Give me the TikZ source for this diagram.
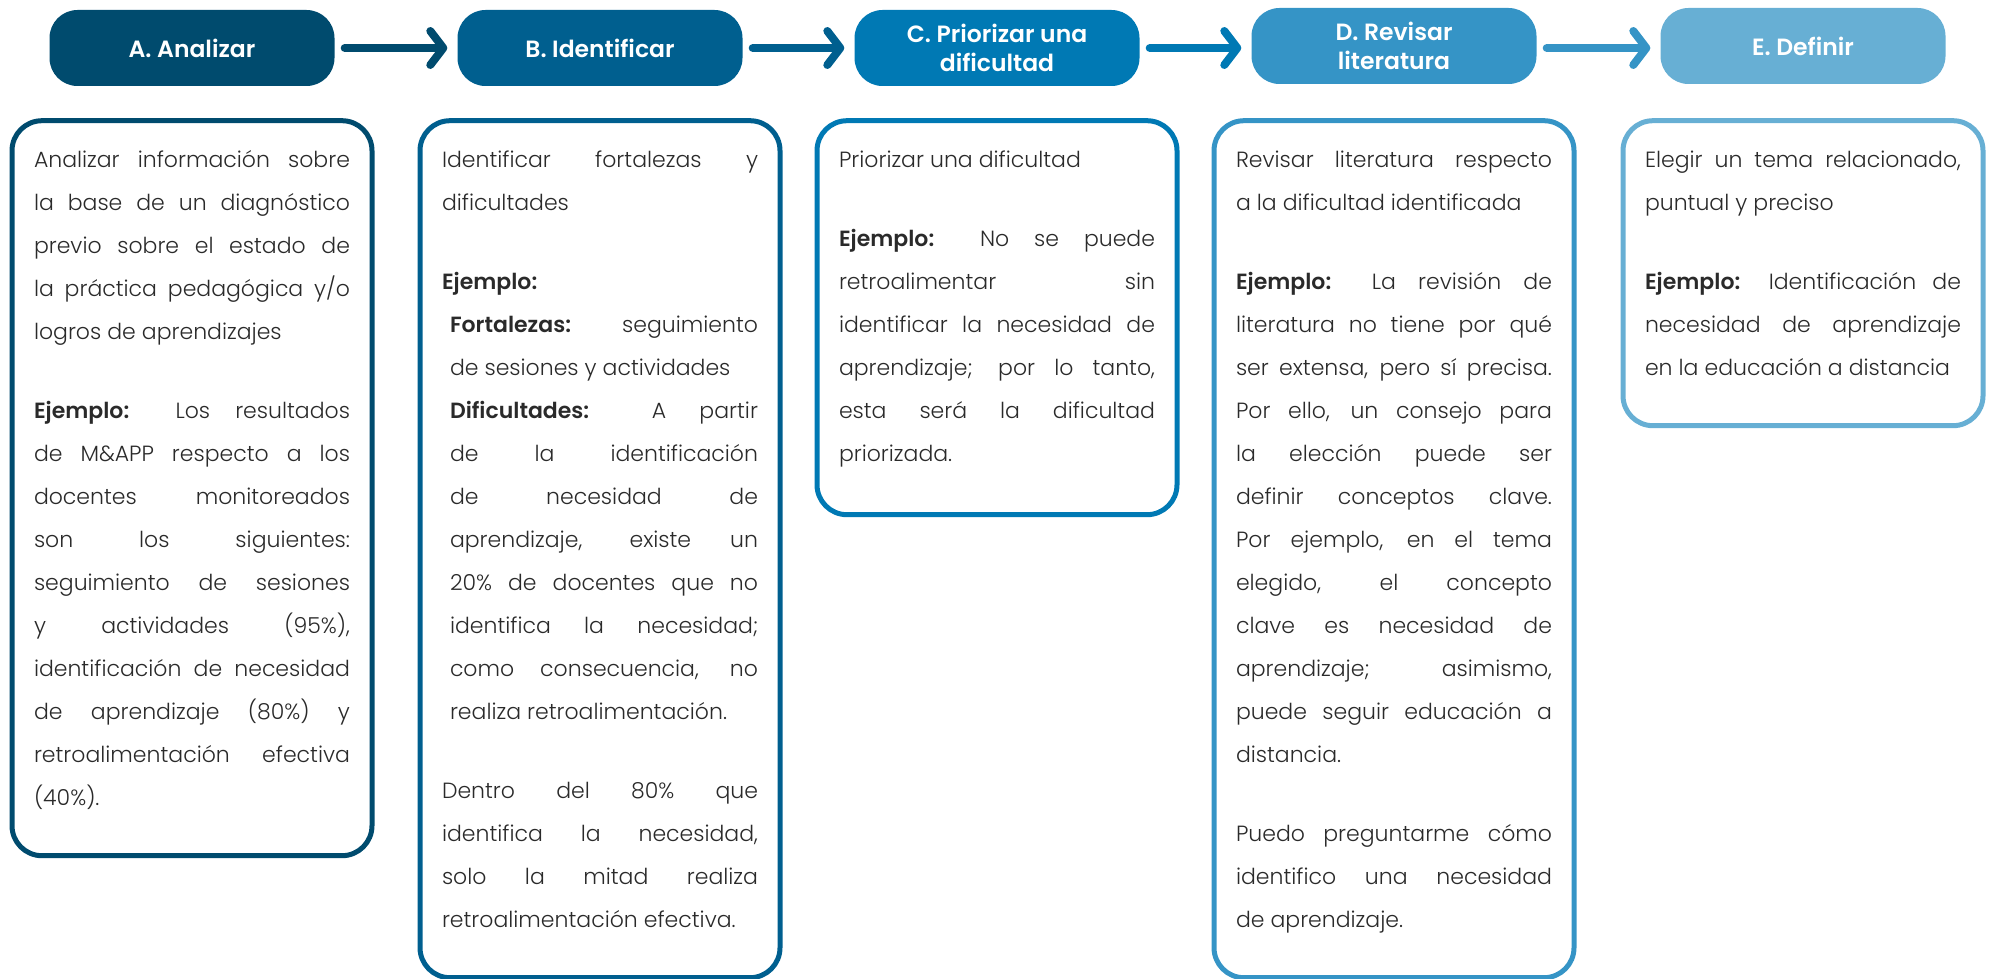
\documentclass[tikz,border=0pt]{standalone}
\usepackage{fontspec}
\setmainfont{Poppins}[UprightFont=* Light, BoldFont=* SemiBold]
\usetikzlibrary{positioning,arrows.meta}
\definecolor{cA}{HTML}{004B6E}
\definecolor{cB}{HTML}{005F8F}
\definecolor{cC}{HTML}{0079B4}
\definecolor{cD}{HTML}{3594C6}
\definecolor{cE}{HTML}{67AFD4}
\definecolor{ink}{HTML}{2A2A2A}
\newcommand{\txtsize}{\fontsize{22pt}{43pt}\selectfont}
\newcommand{\boxtext}[2]{\parbox[c][#1][t]{316pt}{\txtsize\hyphenpenalty=10000 #2}}
\newcommand{\gap}{\par\vspace{36pt}}
\begin{document}
\begin{tikzpicture}[x=1pt,y=-1pt,
  head/.style={fill=#1, text=white, rounded corners=28pt, minimum width=285pt,
    minimum height=76pt, align=center, font=\fontsize{23.5pt}{29pt}\selectfont\bfseries},
  body/.style={draw=#1, line width=5pt, rounded corners=30pt, inner xsep=22pt,
    inner ysep=30pt, text=ink},
  link/.style={draw=#1, line width=8pt, line cap=round,
    -{Straight Barb[round,length=13pt,width=34pt]}, shorten <=10pt, shorten >=10pt}]
\useasboundingbox (0,0) rectangle (1991,979);
% steps
\node [head=cA] (hA) at (192,48) {A. Analizar};
\node [head=cB] (hB) at (600,48) {B. Identificar};
\node [head=cC] (hC) at (997,48) {C. Priorizar una\\dificultad};
\node [head=cD] (hD) at (1394,46) {D. Revisar\\literatura};
\node [head=cE] (hE) at (1803,46) {E. Definir};
\draw [link=cA] (hA.east) -- (hA.east -| hB.west);
\draw [link=cB] (hB.east) -- (hB.east -| hC.west);
\draw [link=cC] (hC.east) -- (hC.east -| hD.west);
\draw [link=cD] (hD.east |- hC.east) -- (hC.east -| hE.west);
% details
\node [body=cA, below=32pt of hA] (bA) {\boxtext{675pt}{%
Analizar información sobre\linebreak la base de un diagnóstico\linebreak previo sobre el estado de\linebreak la práctica pedagógica y/o\linebreak logros de aprendizajes\gap
\textbf{Ejemplo:} Los resultados\linebreak de M\&APP respecto a los\linebreak docentes monitoreados\linebreak son los siguientes:\linebreak seguimiento de sesiones\linebreak y actividades (95\%),\linebreak identificación de necesidad\linebreak de aprendizaje (80\%) y\linebreak retroalimentación efectiva\linebreak (40\%).}};
\node [body=cB, below=32pt of hB] (bB) {\boxtext{797pt}{%
Identificar fortalezas y\linebreak dificultades\gap
\textbf{Ejemplo:}\par
{\leftskip=8pt \textbf{Fortalezas:} seguimiento\linebreak de sesiones y actividades\par
\textbf{Dificultades:} A partir\linebreak de la identificación\linebreak de necesidad de\linebreak aprendizaje, existe un\linebreak 20\% de docentes que no\linebreak identifica la necesidad;\linebreak como consecuencia, no\linebreak realiza retroalimentación.\par}
\vspace{36pt}
Dentro del 80\% que\linebreak identifica la necesidad,\linebreak solo la mitad realiza\linebreak retroalimentación efectiva.}};
\node [body=cC, below=32pt of hC] (bC) {\boxtext{334pt}{%
Priorizar una dificultad\gap
\textbf{Ejemplo:} No se puede\linebreak retroalimentar sin\linebreak identificar la necesidad de\linebreak aprendizaje; por lo tanto,\linebreak esta será la dificultad\linebreak priorizada.}};
\node [body=cD, below=34pt of hD] (bD) {\boxtext{797pt}{%
Revisar literatura respecto\linebreak a la dificultad identificada\gap
\textbf{Ejemplo:} La revisión de\linebreak literatura no tiene por qué\linebreak ser extensa, pero sí precisa.\linebreak Por ello, un consejo para\linebreak la elección puede ser\linebreak definir conceptos clave.\linebreak Por ejemplo, en el tema\linebreak elegido, el concepto\linebreak clave es necesidad de\linebreak aprendizaje; asimismo,\linebreak puede seguir educación a\linebreak distancia.\gap
Puedo preguntarme cómo\linebreak identifico una necesidad\linebreak de aprendizaje.}};
\node [body=cE, below=34pt of hE] (bE) {\boxtext{245pt}{%
Elegir un tema relacionado,\linebreak puntual y preciso\gap
\textbf{Ejemplo:} Identificación de\linebreak necesidad de aprendizaje\linebreak en la educación a distancia}};
\end{tikzpicture}
\end{document}
